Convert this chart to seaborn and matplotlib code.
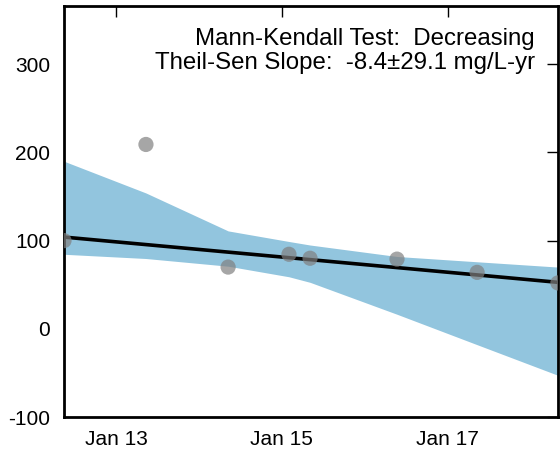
import matplotlib
matplotlib.use("Agg")
import matplotlib.pyplot as plt
import matplotlib.dates as mdates
import seaborn as sns
import pandas as pd
import numpy as np

# ---- data ----
sample_dates = ["2012-05-16", "2013-05-12", "2014-05-09", "2015-02-01",
                "2015-05-05", "2016-05-22", "2017-05-10", "2018-05-01"]
sample_values = [100, 209, 70, 84.5, 80, 79, 64, 52]
band_upper = [190, 154, 111, 99, 95, 82, 76, 70]
band_lower = [84.5, 79.7, 71, 59, 52.7, 16.5, -18, -52.7]
trend_dates = ["2012-05-16", "2018-05-01"]
trend_values = [104, 52.7]
y_ticks = [-100, 0, 100, 200, 300]
x_tick_dates = ["2013-01-01", "2015-01-01", "2017-01-01"]
label_line1 = "Mann-Kendall Test:  Decreasing"
label_line2 = "Theil-Sen Slope:  -8.4\u00b129.1 mg/L-yr"

df = pd.DataFrame({"date": pd.to_datetime(sample_dates), "value": sample_values,
                   "upper": band_upper, "lower": band_lower})
trend = pd.DataFrame({"date": pd.to_datetime(trend_dates), "value": trend_values})

sns.set_style("white")
plt.rcParams["font.family"] = ["Liberation Sans", "DejaVu Sans"]
plt.rcParams["axes.unicode_minus"] = False
plt.rcParams["text.color"] = "black"

fig = plt.figure(figsize=(5.6, 4.5), dpi=100)
ax = fig.add_axes([0.1143, 0.0733, 0.882, 0.9134])

ax.fill_between(df["date"], df["lower"], df["upper"], color="#92c5de", lw=0, zorder=1)
sns.lineplot(data=trend, x="date", y="value", color="black", lw=2.6, ax=ax, zorder=2)
sns.scatterplot(data=df, x="date", y="value", color="#808080", alpha=0.7, s=120,
                edgecolor="none", ax=ax, zorder=3, clip_on=True)

ax.set_xlim(df["date"].iloc[0], df["date"].iloc[-1])
ax.set_ylim(-100, 366)
ax.set_yticks(y_ticks)
ax.set_xticks(pd.to_datetime(x_tick_dates))
ax.xaxis.set_major_formatter(mdates.DateFormatter("%b %y"))
ax.set_xlabel("")
ax.set_ylabel("")

for s in ax.spines.values():
    s.set_linewidth(2)
    s.set_color("black")
ax.tick_params(axis="both", direction="in", length=8, width=1, labelsize=15,
               top=True, right=True, colors="black", labelcolor="black")
ax.tick_params(axis="y", pad=10)
ax.tick_params(axis="x", pad=9)

ax.text(0.953, 0.891, label_line1 + "\n" + label_line2, transform=ax.transAxes,
        ha="right", va="center", multialignment="right", fontsize=17.3,
        linespacing=1.15, color="black")

fig.savefig("out.png", dpi=100)
